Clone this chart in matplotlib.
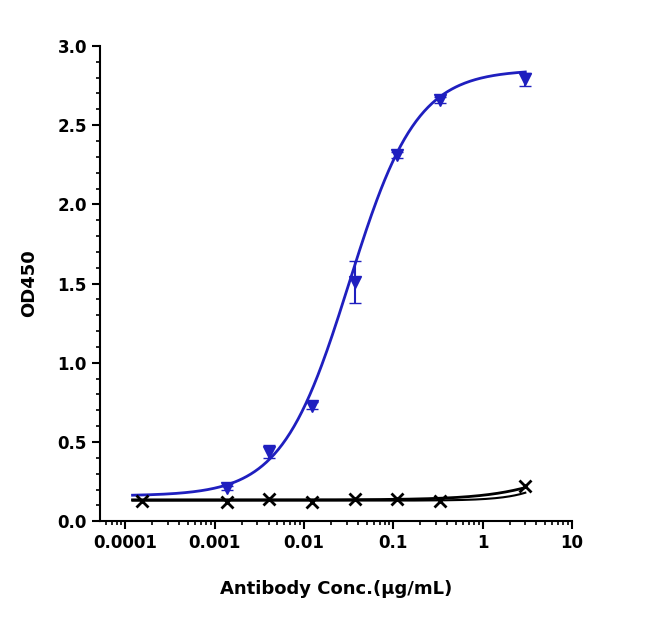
import numpy as np
import matplotlib
matplotlib.use("Agg")
import matplotlib.pyplot as plt
from matplotlib.ticker import LogLocator, NullFormatter, FixedLocator, MultipleLocator

conc = [0.000152, 0.00137, 0.0041, 0.0123, 0.037, 0.111, 0.333, 3.0]
blue_conc = [0.00137, 0.0041, 0.0123, 0.037, 0.111, 0.333, 3.0]
blue_od = [0.21, 0.44, 0.73, 1.51, 2.31, 2.66, 2.79]
blue_err = [0.01, 0.04, 0.02, 0.13, 0.02, 0.02, 0.04]
black_od = [0.13, 0.12, 0.14, 0.12, 0.14, 0.14, 0.13, 0.22]
# 4PL fit parameters
bottom, top, ec50, hill = 0.16, 2.85, 0.032, 1.15
bk_bottom, bk_top, bk_ec50, bk_hill = 0.135, 0.6, 15.0, 1.0
xticks = [0.0001, 0.001, 0.01, 0.1, 1, 10]
xticklabels = ["0.0001", "0.001", "0.01", "0.1", "1", "10"]

fig = plt.figure(figsize=(6.5, 6.38), dpi=100)
ax = fig.add_axes([0.154, 0.183, 0.726, 0.745])
ax.set_xscale("log")
ax.set_xlim(5.2e-5, 10)
ax.set_ylim(0, 3.0)

xs = np.logspace(np.log10(1.2e-4), np.log10(3.0), 300)
ax.plot(xs, bottom + (top - bottom) / (1 + (ec50 / xs) ** hill), color="#1f1fbf", lw=2)
ax.errorbar(blue_conc, blue_od, yerr=blue_err, fmt="v", color="#1f1fbf", ms=8, capsize=4, lw=1.5)
ax.plot(xs, bk_bottom + (bk_top - bk_bottom) / (1 + (bk_ec50 / xs) ** bk_hill), color="black", lw=2)
ax.plot(xs, 0.13 + 0.05 * (xs / 3.0) ** 1.5, color="black", lw=1.5)
ax.plot(conc, black_od, "x", color="black", ms=8, mew=2)

for s in ["top", "right"]:
    ax.spines[s].set_visible(False)
for s in ["left", "bottom"]:
    ax.spines[s].set_linewidth(1.5)
ax.xaxis.set_major_locator(FixedLocator(xticks))
ax.set_xticklabels(xticklabels)
ax.xaxis.set_minor_locator(LogLocator(base=10, subs=np.arange(2, 10)))
ax.xaxis.set_minor_formatter(NullFormatter())
ax.yaxis.set_major_locator(MultipleLocator(0.5))
ax.yaxis.set_minor_locator(MultipleLocator(0.1))
ax.yaxis.set_major_formatter(plt.FuncFormatter(lambda v, p: f"{v:.1f}"))
ax.tick_params(which="major", length=6, width=1.5, labelsize=12)
ax.tick_params(which="minor", length=3, width=1.2)
for t in ax.get_xticklabels() + ax.get_yticklabels():
    t.set_fontweight("bold")
ax.set_xlabel("Antibody Conc.(μg/mL)", fontsize=13, fontweight="bold", labelpad=20)
ax.set_ylabel("OD450", fontsize=13, fontweight="bold", labelpad=14)
fig.savefig("out.png", dpi=100)
